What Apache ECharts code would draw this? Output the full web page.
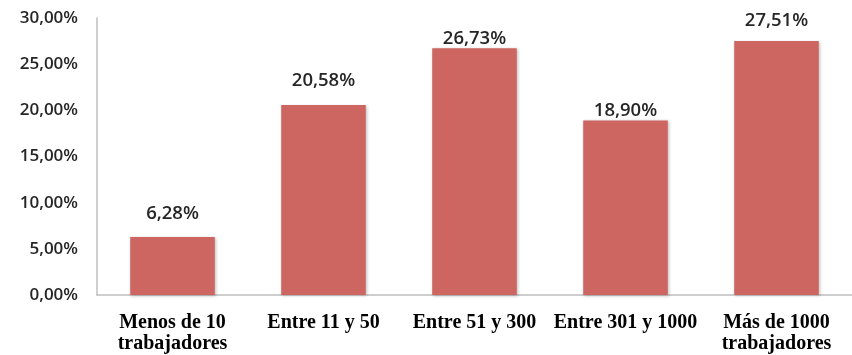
<!DOCTYPE html>
<html lang="es" style="height: 100%">
<head>
  <meta charset="utf-8">
</head>
<body style="height: 100%; margin: 0; background: #fff">
  <div id="container" style="width: 852px; height: 355px"></div>
  <script src="https://cdn.jsdelivr.net/npm/echarts@6/dist/echarts.min.js"></script>
  <script>
    const categories = ['Menos de 10\ntrabajadores', 'Entre 11 y 50', 'Entre 51 y 300', 'Entre 301 y 1000', 'Más de 1000\ntrabajadores'];
    const values = [6.28, 20.58, 26.73, 18.90, 27.51];
    // gap between each value label and its bar, as placed in the original
    const labelGaps = [14, 15, 0, 0, 11];

    const fmt = v => v.toFixed(2).replace('.', ',') + '%';

    const chart = echarts.init(document.getElementById('container'), null, { renderer: 'canvas' });

    chart.setOption({
      animation: false,
      grid: { left: 97, right: -9, top: 18, bottom: 60 },
      xAxis: {
        type: 'category',
        data: categories,
        axisLine: { lineStyle: { color: '#BFBFBF', width: 1.5 } },
        axisTick: { show: false },
        axisLabel: {
          interval: 0,
          color: '#000',
          fontFamily: 'Liberation Serif',
          fontWeight: 'bold',
          fontSize: 20,
          lineHeight: 21,
          margin: 17
        }
      },
      yAxis: {
        type: 'value',
        min: 0,
        max: 30,
        interval: 5,
        splitLine: { show: false },
        axisLine: { show: true, lineStyle: { color: '#BFBFBF', width: 1.5 } },
        axisTick: { show: false },
        axisLabel: {
          formatter: v => fmt(v),
          color: '#262626',
          fontFamily: 'Open Sans',
          fontWeight: 600,
          fontSize: 17,
          margin: 19
        }
      },
      series: [{
        type: 'bar',
        data: values.map((v, i) => ({ value: v, label: { distance: labelGaps[i] } })),
        barWidth: '56%',
        itemStyle: {
          color: '#CD6560',
          shadowColor: 'rgba(0,0,0,0.25)',
          shadowBlur: 3,
          shadowOffsetX: 1,
          shadowOffsetY: 1
        },
        label: {
          show: true,
          position: 'top',
          formatter: p => fmt(p.value),
          color: '#262626',
          fontFamily: 'Open Sans',
          fontWeight: 600,
          fontSize: 18.5
        }
      }]
    });
  </script>
</body>
</html>
